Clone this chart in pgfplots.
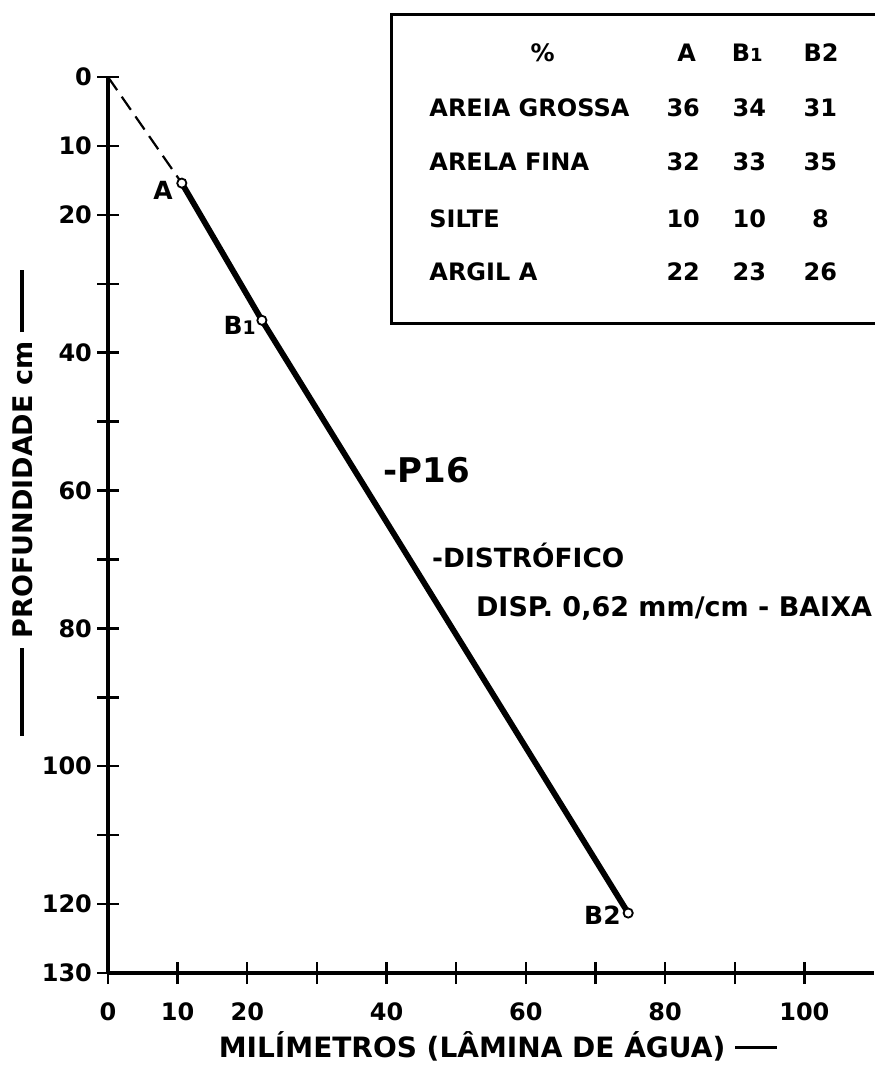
\documentclass[border=0pt]{standalone}
\usepackage{pgfplots}
\pgfplotsset{compat=1.18}
\usepackage{fontspec}
\setmainfont{DejaVu Sans}
\usepackage{graphicx}
\newcommand\fs[1]{\fontsize{#1}{#1}\selectfont\bfseries}
\newcommand\Bone{B\scalebox{0.75}{1}}
\begin{document}
\begin{tikzpicture}
\path[use as bounding box] (0,0) rectangle (437pt,534pt);
\begin{axis}[
  at={(245.5pt,271.5pt)}, anchor=center,
  scale only axis, width=383pt, height=448pt,
  xmin=0, xmax=110, ymin=0, ymax=130, y dir=reverse,
  axis x line=bottom, axis y line=left,
  axis line style={line width=2pt, -},
  xtick={0,10,...,100}, xticklabels={0,10,20,,40,,60,,80,,100},
  ytick={0,10,...,130}, yticklabels={0,10,20,,40,,60,,80,,100,,120,130},
  tick align=center, major tick length=11pt,
  tick style={line width=1.2pt, black},
  tick label style={font=\fs{12}},
  xticklabel style={yshift=-6pt},
  yticklabel style={xshift=1pt},
  clip=false,
  xlabel={\fs{14}MILÍMETROS (LÂMINA DE ÁGUA) \rule[0.3em]{21pt}{1.6pt}},
  xlabel style={at={(axis cs:56.0,140.6)}, anchor=center, inner sep=0pt},
  ylabel={\fs{13.5}\rule[0.3em]{44pt}{2pt} PROFUNDIDADE cm \rule[0.3em]{31pt}{2pt}},
  ylabel style={at={(axis cs:-12.3,61.8)}, anchor=center, rotate=0},
]
\addplot[line width=1.1pt, dash pattern=on 8pt off 4pt] coordinates {(0,0) (10.6,15.4)};
\addplot[line width=2.9pt] coordinates {(10.6,15.4) (22.1,35.3) (74.7,121.3)};
\addplot[only marks, mark=*, mark options={fill=white, draw=black, line width=0.9pt}, mark size=2.3pt] coordinates {(10.6,15.4) (22.1,35.3) (74.7,121.3)};
% point labels
\node[font=\fs{12.5}] at (axis cs:7.9,16.4) {A};
\node[font=\fs{12.5}] at (axis cs:18.9,36.0) {\Bone};
\node[font=\fs{12.5}] at (axis cs:71.0,121.6) {B2};
% table
\draw[line width=1.5pt] (axis cs:40.7,-9.1) rectangle (axis cs:115,35.7);
\node[font=\fs{12}] at (axis cs:62.4,-3.5) {\%};
\node[font=\fs{12}] at (axis cs:83.1,-3.5) {A};
\node[font=\fs{12}] at (axis cs:91.8,-3.5) {\Bone};
\node[font=\fs{12}] at (axis cs:102.4,-3.5) {B2};
\node[font=\fs{12}, anchor=west, inner sep=0pt] at (axis cs:46.1,4.5) {AREIA GROSSA};
\node[font=\fs{12}, anchor=west, inner sep=0pt] at (axis cs:46.1,12.3) {ARELA FINA};
\node[font=\fs{12}, anchor=west, inner sep=0pt] at (axis cs:46.1,20.6) {SILTE};
\node[font=\fs{12}, anchor=west, inner sep=0pt] at (axis cs:46.1,28.3) {ARGIL A};
\node[font=\fs{12}] at (axis cs:82.6,4.5) {36};
\node[font=\fs{12}] at (axis cs:92.1,4.5) {34};
\node[font=\fs{12}] at (axis cs:102.3,4.5) {31};
\node[font=\fs{12}] at (axis cs:82.6,12.3) {32};
\node[font=\fs{12}] at (axis cs:92.1,12.3) {33};
\node[font=\fs{12}] at (axis cs:102.3,12.3) {35};
\node[font=\fs{12}] at (axis cs:82.6,20.6) {10};
\node[font=\fs{12}] at (axis cs:92.1,20.6) {10};
\node[font=\fs{12}] at (axis cs:102.3,20.6) {8};
\node[font=\fs{12}] at (axis cs:82.6,28.3) {22};
\node[font=\fs{12}] at (axis cs:92.1,28.3) {23};
\node[font=\fs{12}] at (axis cs:102.3,28.3) {26};
% annotations
\node[font=\fs{17}, anchor=west, inner sep=0pt] at (axis cs:39.5,57.0) {-P16};
\node[font=\fs{13.2}, anchor=west, inner sep=0pt] at (axis cs:46.5,69.4) {-DISTRÓFICO};
\node[font=\fs{13.5}, anchor=west, inner sep=0pt] at (axis cs:52.8,77.1) {DISP. 0,62 mm/cm - BAIXA};
\end{axis}
\end{tikzpicture}
\end{document}
